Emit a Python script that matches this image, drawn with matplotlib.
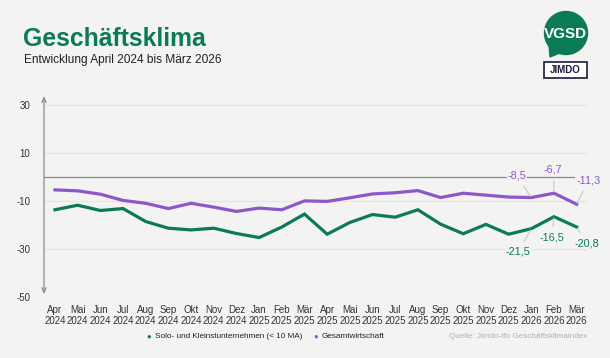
import matplotlib.pyplot as plt
from matplotlib.patches import Circle, Rectangle, Polygon

plt.rcParams['font.family'] = ['Liberation Sans', 'DejaVu Sans']

months = ["Apr", "Mai", "Jun", "Jul", "Aug", "Sep", "Okt", "Nov", "Dez", "Jan", "Feb", "Mär"] * 2
years = ["2024"] * 9 + ["2025"] * 12 + ["2026"] * 3
tick_labels = [f"{m}\n{y}" for m, y in zip(months, years)]

solo = [-13.6, -11.7, -13.9, -13.1, -18.5, -21.3, -22.0, -21.3, -23.5, -25.2, -20.8, -15.4,
        -23.8, -18.9, -15.6, -16.7, -13.6, -19.6, -23.6, -19.7, -23.8, -21.5, -16.5, -20.8]
gesamt = [-5.3, -5.7, -7.1, -9.7, -10.9, -13.1, -10.9, -12.5, -14.3, -12.9, -13.6, -9.9,
          -10.1, -8.6, -7.0, -6.5, -5.6, -8.5, -6.7, -7.5, -8.3, -8.5, -6.7, -11.3]

GREEN = "#0b7a57"
PURPLE = "#8b57c9"
BG = "#f3f3f1"

fig = plt.figure(figsize=(6.1, 3.58), dpi=100, facecolor=BG)
ax = fig.add_axes([0.0721, 0.1704, 0.8913, 0.569])
ax.set_facecolor(BG)

x = list(range(len(solo)))
ax.set_xlim(-0.485, 23.485)
ax.set_ylim(-50, 35)

for v in [30, 10, -10, -30, -50]:
    ax.axhline(v, color="#e4e4e2", lw=0.8, zorder=0)
ax.plot([-0.485, 23], [0, 0], color="#8a8a8a", lw=0.9, zorder=1)

ax.plot(x, solo, color=GREEN, lw=2.3, solid_joinstyle="miter", zorder=3)
ax.plot(x, gesamt, color=PURPLE, lw=2.3, solid_joinstyle="miter", zorder=3)

for s in ax.spines.values():
    s.set_visible(False)
ax.annotate("", xy=(0, 1.0), xytext=(0, 0.0), xycoords="axes fraction",
            arrowprops=dict(arrowstyle="<->,head_length=0.35,head_width=0.15",
                            color="#8a8a8a", lw=0.9))

ax.set_yticks([30, 10, -10, -30, -50])
ax.set_yticklabels(["30", "10", "-10", "-30", "-50"])
ax.set_xticks(x)
ax.set_xticklabels(tick_labels, linespacing=1.1)
ax.tick_params(length=0, labelsize=7, colors="#333333")
ax.tick_params(axis="y", pad=10)
ax.tick_params(axis="x", pad=6)

# end labels
lbl = dict(fontsize=7.8, ha="center", va="center", zorder=5,
           bbox=dict(facecolor=BG, edgecolor="none", pad=0.5))
line = dict(arrowstyle="-", color="#c8c8c8", lw=0.8, shrinkA=4, shrinkB=1)
for xi, yv, tx, ty, col in [
    (21, gesamt[21], 20.36, 0.5, PURPLE),
    (22, gesamt[22], 21.97, 3.0, PURPLE),
    (23, gesamt[23], 23.51, -1.4, PURPLE),
    (21, solo[21], 20.43, -31.2, GREEN),
    (22, solo[22], 21.9, -25.2, GREEN),
    (23, solo[23], 23.44, -27.5, GREEN),
]:
    ax.annotate(f"{yv:.1f}".replace(".", ","), xy=(xi, yv), xytext=(tx, ty),
                color=col, arrowprops=line, **lbl)

# titles
fig.text(23 / 610, 1 - 46 / 358, "Geschäftsklima", fontsize=17.8, fontweight="bold",
         color=GREEN, va="baseline")
fig.text(24 / 610, 1 - 63 / 358, "Entwicklung April 2024 bis März 2026", fontsize=8.6,
         color="#222222", va="baseline")

# legend
ly = 1 - 337 / 358
fig.text(149 / 610, ly, "●", fontsize=5.5, color=GREEN, ha="center", va="center")
fig.text(155 / 610, ly, "Solo- und Kleinstunternehmen (< 10 MA)", fontsize=5.9,
         color="#222222", va="center")
fig.text(316 / 610, ly, "●", fontsize=5.5, color=PURPLE, ha="center", va="center")
fig.text(322 / 610, ly, "Gesamtwirtschaft", fontsize=5.9,
         color="#222222", va="center")
fig.text(587 / 610, ly, "Quelle: Jimdo-ifo Geschäftsklimaindex", fontsize=5.9,
         color="#b0b0b0", ha="right", va="center")

# logos
lax = fig.add_axes([0, 0, 1, 1], facecolor="none")
lax.set_xlim(0, 610)
lax.set_ylim(358, 0)
lax.axis("off")
lax.add_patch(Circle((566, 33), 21.5, color=GREEN))
lax.add_patch(Polygon([[549, 44], [550, 57], [562, 52]], color=GREEN))
lax.text(565.5, 34, "VGSD", color="white", fontsize=11, fontweight="bold",
         ha="center", va="center")
lax.add_patch(Rectangle((544, 62), 43, 16, facecolor="white", edgecolor="#1a1a3a", lw=1.2))
lax.text(565.5, 70, "JIMDO", color="#1a1a3a", fontsize=7, fontweight="bold",
         ha="center", va="center")

fig.savefig("out.png", dpi=100, facecolor=BG)
